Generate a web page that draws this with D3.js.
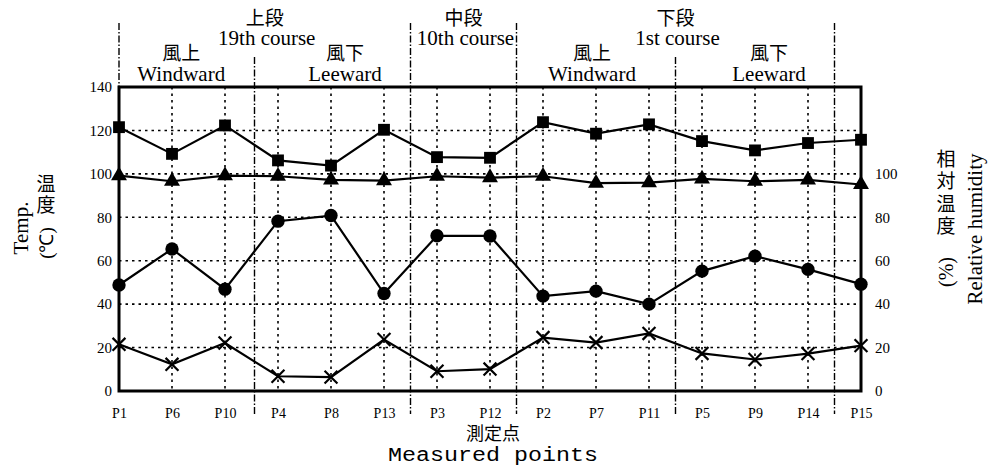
<!DOCTYPE html>
<html>
<head>
<meta charset="utf-8">
<script src="https://cdn.jsdelivr.net/npm/d3@7"></script>
<style>
  body { margin: 0; background: #fff; }
  svg text { fill: #000; }
</style>
</head>
<body>
<div id="chartContainer"></div>
<script>
const points = ['P1', 'P6', 'P10', 'P4', 'P8', 'P13', 'P3', 'P12', 'P2', 'P7', 'P11', 'P5', 'P9', 'P14', 'P15'];

// temperature (squares, circles, crosses) and humidity (triangles)
const squares = [121.5, 109.2, 122.3, 106.2, 103.8, 120.3, 107.7, 107.4, 123.8, 118.5, 122.8, 115.1, 110.8, 114.2, 115.7];
const triangles = [99.2, 96.6, 99.2, 98.9, 97.2, 96.9, 98.9, 98.3, 98.9, 95.7, 96, 97.7, 96.6, 97.2, 95.1];
const circles = [48.8, 65.4, 46.9, 78.2, 80.8, 44.9, 71.5, 71.4, 43.7, 46, 40, 55.2, 62.1, 56, 49.2];
const crosses = [21.5, 12.3, 22.1, 6.8, 6.4, 23.7, 9.1, 10.1, 24.6, 22.3, 26.5, 17.3, 14.5, 17.2, 20.9];

const leftTicks = [0, 20, 40, 60, 80, 100, 120, 140];
const rightTicks = [0, 20, 40, 60, 80, 100];

// courses: first / last measured point
const courseNames = ['上段', '中段', '下段'];
const courseLabels = ['19th course', '10th course', '1st course'];
const courseRanges = [['P1', 'P13'], ['P3', 'P12'], ['P2', 'P14']];

const sideNames = ['風上', '風下', '風上', '風下'];
const sideLabels = ['Windward', 'Leeward', 'Windward', 'Leeward'];
const sideRanges = [['P1', 'P10'], ['P4', 'P13'], ['P2', 'P11'], ['P5', 'P14']];

const SERIF = "'Liberation Serif', 'Times New Roman', serif";
const CJK = "'Noto Sans CJK JP', sans-serif";
const MONO = "'Liberation Mono', monospace";

const svgWidth = 988;
const svgHeight = 470;
const plot = { left: 119, right: 861, top: 87, bottom: 391 };

const svg = d3.select('#chartContainer').append('svg').attr('width', svgWidth).attr('height', svgHeight);

const xScale = d3.scalePoint().domain(points).range([plot.left, plot.right]);
const yScale = d3.scaleLinear().domain([0, 140]).range([plot.bottom, plot.top]);

const step = xScale.step();
const leftEdge = (p) => (p === points[0] ? xScale(p) : xScale(p) - step / 2);
const rightEdge = (p) => xScale(p) + step / 2;

// grid
const grid = svg.append('g').attr('stroke', '#000').attr('stroke-width', 1.6).attr('stroke-dasharray', '2.5,4');
grid.selectAll('.hgrid')
    .data(leftTicks.filter((t) => t > 0 && t < 140))
    .enter()
    .append('line')
    .attr('x1', plot.left)
    .attr('x2', plot.right)
    .attr('y1', (d) => yScale(d))
    .attr('y2', (d) => yScale(d));
grid.selectAll('.vgrid')
    .data(points.slice(1, -1))
    .enter()
    .append('line')
    .attr('x1', (d) => xScale(d))
    .attr('x2', (d) => xScale(d))
    .attr('y1', plot.top)
    .attr('y2', plot.bottom);

// section dividers (dash-dot)
const tall = [leftEdge('P1'), rightEdge('P13'), rightEdge('P12'), rightEdge('P14')];
const short = [rightEdge('P10') + 3, rightEdge('P11')];
const divs = svg.append('g').attr('stroke', '#000').attr('stroke-width', 1.4).attr('stroke-dasharray', '7,2,1.5,2');
divs.selectAll('.tall')
    .data(tall)
    .enter()
    .append('line')
    .attr('x1', (d) => d)
    .attr('x2', (d) => d)
    .attr('y1', 23)
    .attr('y2', (d, i) => (i === 0 ? plot.bottom : 414));
divs.selectAll('.short')
    .data(short)
    .enter()
    .append('line')
    .attr('x1', (d) => d)
    .attr('x2', (d) => d)
    .attr('y1', 57)
    .attr('y2', 414);

// header labels
const courseX = courseRanges.map((r) => (leftEdge(r[0]) + rightEdge(r[1])) / 2);
svg.selectAll('.courseName')
    .data(courseNames)
    .enter()
    .append('text')
    .attr('x', (d, i) => courseX[i])
    .attr('y', 25)
    .attr('text-anchor', 'middle')
    .style('font-family', CJK)
    .style('font-size', '19px')
    .text((d) => d);
svg.selectAll('.courseLabel')
    .data(courseLabels)
    .enter()
    .append('text')
    .attr('x', (d, i) => courseX[i] + 2)
    .attr('y', 45)
    .attr('text-anchor', 'middle')
    .style('font-family', SERIF)
    .style('font-size', '21px')
    .text((d) => d);

const sideX = sideRanges.map((r, i) => (leftEdge(r[0]) + rightEdge(r[1])) / 2 + (i % 2 === 0 ? -4 : 14));
svg.selectAll('.sideName')
    .data(sideNames)
    .enter()
    .append('text')
    .attr('x', (d, i) => sideX[i])
    .attr('y', 60)
    .attr('text-anchor', 'middle')
    .style('font-family', CJK)
    .style('font-size', '19px')
    .text((d) => d);
svg.selectAll('.sideLabel')
    .data(sideLabels)
    .enter()
    .append('text')
    .attr('x', (d, i) => sideX[i])
    .attr('y', 81)
    .attr('text-anchor', 'middle')
    .style('font-family', SERIF)
    .style('font-size', '21px')
    .text((d) => d);

// series
const line = d3.line().x((d, i) => xScale(points[i])).y((d) => yScale(d));
const series = [
    { values: squares, symbol: d3.symbolSquare, size: 140, fill: true },
    { values: triangles, symbol: d3.symbolTriangle, size: 110, fill: true },
    { values: circles, symbol: d3.symbolCircle, size: 140, fill: true },
    { values: crosses, symbol: d3.symbolX, size: 110, fill: false },
];

series.forEach((s) => {
    svg.append('path')
        .datum(s.values)
        .attr('fill', 'none')
        .attr('stroke', '#000')
        .attr('stroke-width', 2.2)
        .attr('d', line);
    svg.selectAll(null)
        .data(s.values)
        .enter()
        .append('path')
        .attr('transform', (d, i) => `translate(${xScale(points[i])}, ${yScale(d)})`)
        .attr('d', d3.symbol(s.symbol, s.size))
        .attr('fill', s.fill ? '#000' : 'none')
        .attr('stroke', '#000')
        .attr('stroke-width', s.fill ? 0 : 2.2);
});

// frame
svg.append('rect')
    .attr('x', plot.left)
    .attr('y', plot.top)
    .attr('width', plot.right - plot.left)
    .attr('height', plot.bottom - plot.top)
    .attr('fill', 'none')
    .attr('stroke', '#000')
    .attr('stroke-width', 3);

// axes
const yAxis = d3.axisLeft(yScale).tickValues(leftTicks).tickSize(0).tickPadding(7);
svg.append('g')
    .attr('class', 'y-axis')
    .attr('transform', `translate(${plot.left}, 0)`)
    .call(yAxis)
    .call((g) => g.select('.domain').remove())
    .selectAll('text')
    .style('font-size', '15px')
    .style('font-family', SERIF);

const yAxisRight = d3.axisRight(yScale).tickValues(rightTicks).tickSize(0).tickPadding(14);
svg.append('g')
    .attr('class', 'y-axis-right')
    .attr('transform', `translate(${plot.right}, 0)`)
    .call(yAxisRight)
    .call((g) => g.select('.domain').remove())
    .selectAll('text')
    .style('font-size', '15px')
    .style('font-family', SERIF);

const xAxis = d3.axisBottom(xScale).tickSize(0).tickPadding(17);
svg.append('g')
    .attr('class', 'x-axis')
    .attr('transform', `translate(0, ${plot.bottom})`)
    .call(xAxis)
    .call((g) => g.select('.domain').remove())
    .selectAll('text')
    .style('font-size', '14px')
    .style('font-family', SERIF);

// axis titles
svg.append('text')
    .attr('x', 493)
    .attr('y', 440)
    .attr('text-anchor', 'middle')
    .style('font-family', CJK)
    .style('font-size', '18px')
    .text('測定点');
svg.append('text')
    .attr('x', 493)
    .attr('y', 461)
    .attr('text-anchor', 'middle')
    .attr('textLength', 210)
    .attr('lengthAdjust', 'spacingAndGlyphs')
    .style('font-family', MONO)
    .style('font-size', '20px')
    .text('Measured points');

svg.append('text')
    .attr('transform', 'translate(28, 228) rotate(-90)')
    .attr('text-anchor', 'middle')
    .style('font-family', SERIF)
    .style('font-size', '21px')
    .text('Temp.')
svg.append('text')
    .attr('x', 46)
    .attr('y', 174)
    .style('writing-mode', 'vertical-rl')
    .style('font-family', CJK)
    .style('font-size', '19px')
    .style('letter-spacing', '2px')
    .text('温度');
svg.append('text')
    .attr('transform', 'translate(53, 243) rotate(-90)')
    .attr('text-anchor', 'middle')
    .style('font-family', SERIF)
    .style('font-size', '19px')
    .text('(℃)');

svg.append('text')
    .attr('x', 946)
    .attr('y', 149)
    .style('writing-mode', 'vertical-rl')
    .style('font-family', CJK)
    .style('font-size', '19px')
    .style('letter-spacing', '3.5px')
    .text('相対温度');
svg.append('text')
    .attr('transform', 'translate(953, 272) rotate(-90)')
    .attr('text-anchor', 'middle')
    .style('font-family', SERIF)
    .style('font-size', '20px')
    .text('(%)');
svg.append('text')
    .attr('transform', 'translate(982, 229) rotate(-90)')
    .attr('text-anchor', 'middle')
    .style('font-family', SERIF)
    .style('font-size', '21px')
    .text('Relative humidity');
</script>
</body>
</html>
